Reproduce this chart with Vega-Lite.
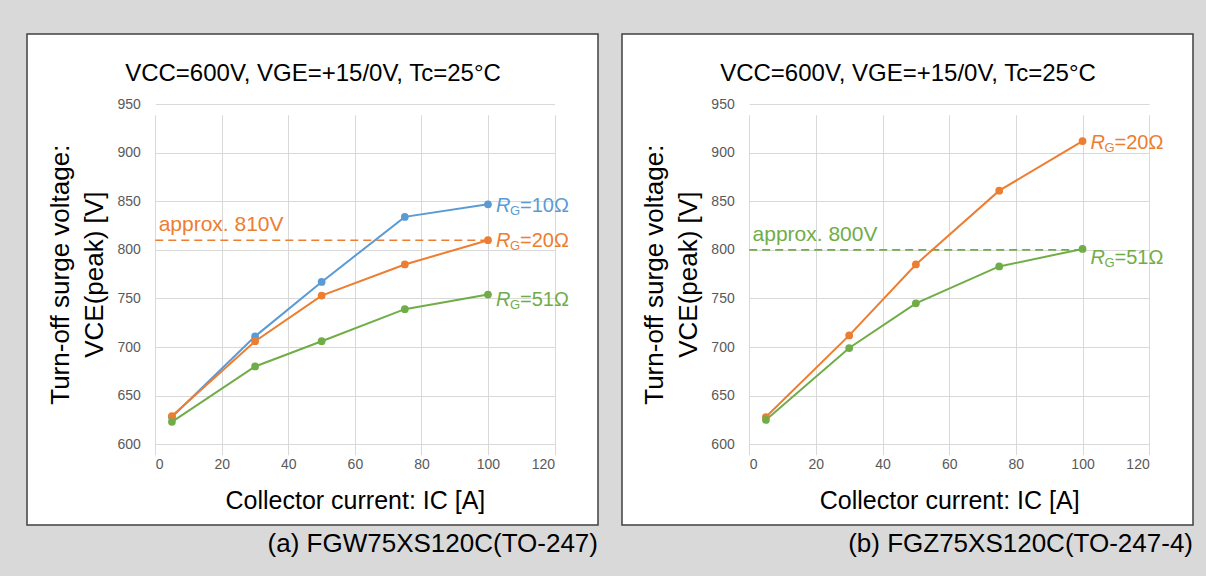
{
  "$schema": "https://vega.github.io/schema/vega-lite/v6.json",
  "background": "#d9d9d9",
  "padding": {"left": 26, "top": 33, "right": 13, "bottom": 19},
  "spacing": 22,
  "config": {
    "font": "Liberation Sans",
    "view": {"fill": "white", "stroke": "#404040", "strokeWidth": 1.5},
    "axis": {
      "gridColor": "#d9d9d9", "gridWidth": 1, "domain": false, "ticks": false, "tickSize": 0,
      "labelFontSize": 14, "labelColor": "#595959", "labelFont": "Liberation Sans",
      "titleFont": "Liberation Sans", "titleFontWeight": "normal", "titleColor": "#000000"
    },
    "title": {"font": "Liberation Sans", "fontWeight": "normal", "color": "#000000"}
  },
  "hconcat": [
    {
      "width": 571, "height": 491,
      "title": {"text": "(a) FGW75XS120C(TO-247)", "orient": "bottom", "anchor": "end", "fontSize": 26, "offset": 6},
      "resolve": {"axis": {"x": "independent"}},
      "encoding": {
        "y": {"field": "v", "type": "quantitative", "scale": {"domain": [600, 950], "range": [410.2, 70.2], "nice": false, "zero": false},
          "axis": {"orient": "left", "offset": -128.3, "values": [600, 650, 700, 750, 800, 850, 900, 950], "grid": true, "labelPadding": 15,
            "title": ["Turn-off surge voltage:", "VCE(peak) [V]"], "titleFontSize": 26, "titleLineHeight": 34, "titlePadding": 9}},
        "color": {"field": "rg", "type": "nominal", "scale": {"domain": ["10Ω", "20Ω", "51Ω"], "range": ["#5b9bd5", "#ed7d31", "#70ad47"]}, "legend": null}
      },
      "layer": [
        {
          "data": {"values": [{"ic": 0, "ic2": 100, "v": 810, "rg": "20Ω"}]},
          "mark": {"type": "rule", "strokeDash": [8, 5], "strokeWidth": 1.6},
          "encoding": {
            "x": {"field": "ic", "type": "quantitative", "scale": {"domain": [0, 120], "range": [128.3, 527.5], "nice": false, "zero": false}, "axis": null},
            "x2": {"field": "ic2"}
          }
        },
        {
          "data": {"values": [
            {"rg": "10Ω", "ic": 5, "v": 628}, {"rg": "10Ω", "ic": 30, "v": 711}, {"rg": "10Ω", "ic": 50, "v": 767}, {"rg": "10Ω", "ic": 75, "v": 834}, {"rg": "10Ω", "ic": 100, "v": 847},
            {"rg": "20Ω", "ic": 5, "v": 629}, {"rg": "20Ω", "ic": 30, "v": 706}, {"rg": "20Ω", "ic": 50, "v": 753}, {"rg": "20Ω", "ic": 75, "v": 785}, {"rg": "20Ω", "ic": 100, "v": 810},
            {"rg": "51Ω", "ic": 5, "v": 623}, {"rg": "51Ω", "ic": 30, "v": 680}, {"rg": "51Ω", "ic": 50, "v": 706}, {"rg": "51Ω", "ic": 75, "v": 739}, {"rg": "51Ω", "ic": 100, "v": 754}
          ]},
          "mark": {"type": "line", "strokeWidth": 2, "point": {"filled": true, "size": 60}},
          "encoding": {
            "x": {"field": "ic", "type": "quantitative", "scale": {"domain": [0, 120], "range": [128.3, 527.5], "nice": false, "zero": false},
              "axis": {"orient": "bottom", "offset": -80.8, "values": [0, 20, 40, 60, 80, 100, 120], "grid": true, "labelPadding": 13,
                "title": "Collector current: IC [A]", "titleFontSize": 25, "titlePadding": 17}}
          }
        },
        {
          "data": {"values": [{"ic": 1, "v": 810, "rg": "20Ω", "note": "approx. 810V"}]},
          "mark": {"type": "text", "align": "left", "baseline": "alphabetic", "fontSize": 21, "dy": -9},
          "encoding": {
            "x": {"field": "ic", "type": "quantitative", "scale": {"domain": [0, 120], "range": [128.3, 527.5], "nice": false, "zero": false},
              "axis": {"orient": "top", "labels": false, "grid": false, "title": "VCC=600V, VGE=+15/0V, Tc=25°C", "titleFontSize": 24,
                "titleX": 285.5, "titleY": 46, "titleBaseline": "alphabetic", "titleAlign": "center"}},
            "text": {"field": "note"}
          }
        },
        {
          "data": {"values": [
            {"ic": 100, "v": 846, "rg": "10Ω", "sym": "R", "sub": "G", "rest": "=10Ω"},
            {"ic": 100, "v": 810, "rg": "20Ω", "sym": "R", "sub": "G", "rest": "=20Ω"},
            {"ic": 100, "v": 749, "rg": "51Ω", "sym": "R", "sub": "G", "rest": "=51Ω"}
          ]},
          "encoding": {
            "x": {"field": "ic", "type": "quantitative", "scale": {"domain": [0, 120], "range": [128.3, 527.5], "nice": false, "zero": false}, "axis": null}
          },
          "layer": [
            {"mark": {"type": "text", "align": "left", "baseline": "alphabetic", "fontSize": 20, "fontStyle": "italic", "dx": 8, "dy": 7}, "encoding": {"text": {"field": "sym"}}},
            {"mark": {"type": "text", "align": "left", "baseline": "alphabetic", "fontSize": 13, "dx": 22, "dy": 10}, "encoding": {"text": {"field": "sub"}}},
            {"mark": {"type": "text", "align": "left", "baseline": "alphabetic", "fontSize": 20, "dx": 32, "dy": 7}, "encoding": {"text": {"field": "rest"}}}
          ]
        }
      ]
    },
    {
      "width": 571, "height": 491,
      "title": {"text": "(b) FGZ75XS120C(TO-247-4)", "orient": "bottom", "anchor": "end", "fontSize": 26, "offset": 6},
      "resolve": {"axis": {"x": "independent"}},
      "encoding": {
        "y": {"field": "v", "type": "quantitative", "scale": {"domain": [600, 950], "range": [410.2, 70.2], "nice": false, "zero": false},
          "axis": {"orient": "left", "offset": -127.2, "values": [600, 650, 700, 750, 800, 850, 900, 950], "grid": true, "labelPadding": 15,
            "title": ["Turn-off surge voltage:", "VCE(peak) [V]"], "titleFontSize": 26, "titleLineHeight": 34, "titlePadding": 9}},
        "color": {"field": "rg", "type": "nominal", "scale": {"domain": ["10Ω", "20Ω", "51Ω"], "range": ["#5b9bd5", "#ed7d31", "#70ad47"]}, "legend": null}
      },
      "layer": [
        {
          "data": {"values": [{"ic": 0, "ic2": 100, "v": 800, "rg": "51Ω"}]},
          "mark": {"type": "rule", "strokeDash": [8, 5], "strokeWidth": 1.6},
          "encoding": {
            "x": {"field": "ic", "type": "quantitative", "scale": {"domain": [0, 120], "range": [127.2, 527.2], "nice": false, "zero": false}, "axis": null},
            "x2": {"field": "ic2"}
          }
        },
        {
          "data": {"values": [
            {"rg": "20Ω", "ic": 5, "v": 628}, {"rg": "20Ω", "ic": 30, "v": 712}, {"rg": "20Ω", "ic": 50, "v": 785}, {"rg": "20Ω", "ic": 75, "v": 861}, {"rg": "20Ω", "ic": 100, "v": 912},
            {"rg": "51Ω", "ic": 5, "v": 625}, {"rg": "51Ω", "ic": 30, "v": 699}, {"rg": "51Ω", "ic": 50, "v": 745}, {"rg": "51Ω", "ic": 75, "v": 783}, {"rg": "51Ω", "ic": 100, "v": 801}
          ]},
          "mark": {"type": "line", "strokeWidth": 2, "point": {"filled": true, "size": 60}},
          "encoding": {
            "x": {"field": "ic", "type": "quantitative", "scale": {"domain": [0, 120], "range": [127.2, 527.2], "nice": false, "zero": false},
              "axis": {"orient": "bottom", "offset": -80.8, "values": [0, 20, 40, 60, 80, 100, 120], "grid": true, "labelPadding": 13,
                "title": "Collector current: IC [A]", "titleFontSize": 25, "titlePadding": 17}}
          }
        },
        {
          "data": {"values": [{"ic": 1, "v": 800, "rg": "51Ω", "note": "approx. 800V"}]},
          "mark": {"type": "text", "align": "left", "baseline": "alphabetic", "fontSize": 21, "dy": -9},
          "encoding": {
            "x": {"field": "ic", "type": "quantitative", "scale": {"domain": [0, 120], "range": [127.2, 527.2], "nice": false, "zero": false},
              "axis": {"orient": "top", "labels": false, "grid": false, "title": "VCC=600V, VGE=+15/0V, Tc=25°C", "titleFontSize": 24,
                "titleX": 285.5, "titleY": 46, "titleBaseline": "alphabetic", "titleAlign": "center"}},
            "text": {"field": "note"}
          }
        },
        {
          "data": {"values": [
            {"ic": 100, "v": 911, "rg": "20Ω", "sym": "R", "sub": "G", "rest": "=20Ω"},
            {"ic": 100, "v": 793, "rg": "51Ω", "sym": "R", "sub": "G", "rest": "=51Ω"}
          ]},
          "encoding": {
            "x": {"field": "ic", "type": "quantitative", "scale": {"domain": [0, 120], "range": [127.2, 527.2], "nice": false, "zero": false}, "axis": null}
          },
          "layer": [
            {"mark": {"type": "text", "align": "left", "baseline": "alphabetic", "fontSize": 20, "fontStyle": "italic", "dx": 8, "dy": 7}, "encoding": {"text": {"field": "sym"}}},
            {"mark": {"type": "text", "align": "left", "baseline": "alphabetic", "fontSize": 13, "dx": 22, "dy": 10}, "encoding": {"text": {"field": "sub"}}},
            {"mark": {"type": "text", "align": "left", "baseline": "alphabetic", "fontSize": 20, "dx": 32, "dy": 7}, "encoding": {"text": {"field": "rest"}}}
          ]
        }
      ]
    }
  ]
}
